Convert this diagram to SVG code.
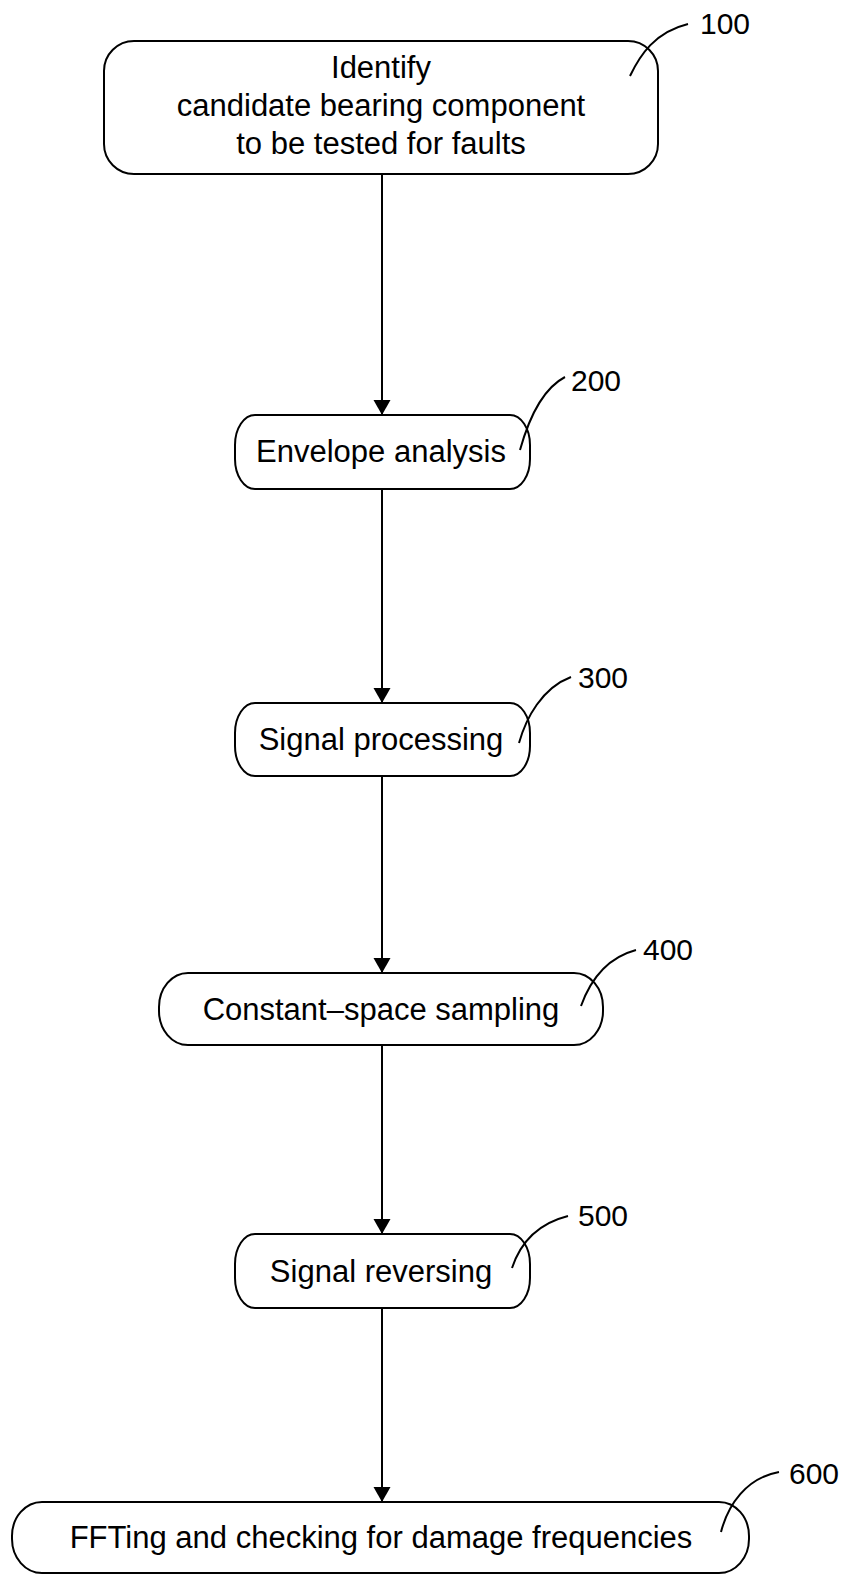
<svg xmlns="http://www.w3.org/2000/svg" width="841" height="1575" viewBox="0 0 841 1575">
<style>
.box{fill:#fff;stroke:#000;stroke-width:2}
.t{font-family:"Liberation Sans",Arial,sans-serif;font-size:31px;fill:#000;text-anchor:middle}
.ref{font-family:"Liberation Sans",Arial,sans-serif;font-size:30px;fill:#000}
.lead{fill:none;stroke:#000;stroke-width:2}
.conn{stroke:#000;stroke-width:2;fill:none}
</style>
<defs>
<marker id="arr" markerUnits="userSpaceOnUse" markerWidth="18" markerHeight="18" refX="15" refY="8.5" orient="auto">
<path d="M0,0 L15,8.5 L0,17 Z" fill="#000"/>
</marker>
</defs>
<rect width="841" height="1575" fill="#fff"/>
<g id="connectors">
<line class="conn" x1="382" y1="174" x2="382" y2="415" marker-end="url(#arr)"/>
<line class="conn" x1="382" y1="489" x2="382" y2="703" marker-end="url(#arr)"/>
<line class="conn" x1="382" y1="776" x2="382" y2="973" marker-end="url(#arr)"/>
<line class="conn" x1="382" y1="1045" x2="382" y2="1234" marker-end="url(#arr)"/>
<line class="conn" x1="382" y1="1308" x2="382" y2="1502" marker-end="url(#arr)"/>
</g>
<g id="node100">
<rect class="box" x="104" y="41" width="554" height="133" rx="30" ry="30"/>
<text class="t" x="381" y="78">Identify</text>
<text class="t" x="381" y="116">candidate bearing component</text>
<text class="t" x="381" y="154">to be tested for faults</text>
<path class="lead" d="M630,76 C640,55 655,32 688,24"/>
<text class="ref" x="700" y="34">100</text>
</g>
<g id="node200">
<rect class="box" x="235" y="415" width="295" height="74" rx="20" ry="30"/>
<text class="t" x="381" y="462">Envelope analysis</text>
<path class="lead" d="M520,450 C527,425 540,390 565,377"/>
<text class="ref" x="571" y="391">200</text>
</g>
<g id="node300">
<rect class="box" x="235" y="703" width="295" height="73" rx="20" ry="30"/>
<text class="t" x="381" y="750">Signal processing</text>
<path class="lead" d="M519,743 C526,718 542,688 571,677"/>
<text class="ref" x="578" y="688">300</text>
</g>
<g id="node400">
<rect class="box" x="159" y="973" width="444" height="72" rx="29" ry="34"/>
<text class="t" x="381" y="1020">Constant–space sampling</text>
<path class="lead" d="M581,1006 C590,981 606,958 636,950"/>
<text class="ref" x="643" y="960">400</text>
</g>
<g id="node500">
<rect class="box" x="235" y="1234" width="295" height="74" rx="20" ry="30"/>
<text class="t" x="381" y="1282">Signal reversing</text>
<path class="lead" d="M512,1268 C520,1244 536,1224 568,1216"/>
<text class="ref" x="578" y="1226">500</text>
</g>
<g id="node600">
<rect class="box" x="12" y="1502" width="737" height="71" rx="30" ry="34"/>
<text class="t" x="381" y="1548">FFTing and checking for damage frequencies</text>
<path class="lead" d="M721,1532 C728,1505 746,1478 779,1472"/>
<text class="ref" x="789" y="1484">600</text>
</g>
</svg>
